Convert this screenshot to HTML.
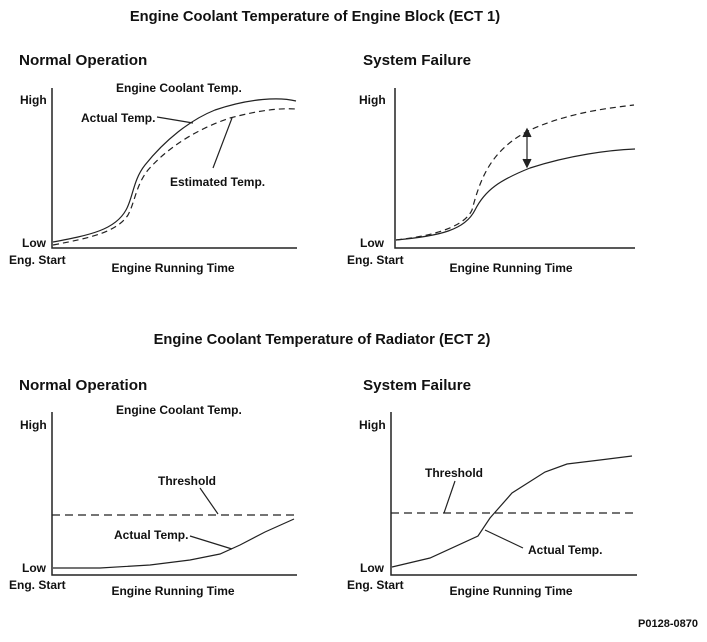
<!DOCTYPE html><html><head><style>body{margin:0;background:#fff}svg text{font-family:"Liberation Sans",Arial,sans-serif;font-weight:bold;fill:#111}</style></head><body>
<svg width="707" height="637" viewBox="0 0 707 637" xmlns="http://www.w3.org/2000/svg">
<g font-size="14.7"><text x="315" y="21" text-anchor="middle">Engine Coolant Temperature of Engine Block (ECT 1)</text>
<text x="322" y="344" text-anchor="middle">Engine Coolant Temperature of Radiator (ECT 2)</text></g>
<g font-size="15.2"><text x="19" y="65">Normal Operation</text><text x="363" y="65">System Failure</text>
<text x="19" y="390">Normal Operation</text><text x="363" y="390">System Failure</text></g>
<g font-size="12">
<text x="116" y="92">Engine Coolant Temp.</text><text x="20" y="104">High</text><text x="22" y="247">Low</text><text x="9" y="264">Eng. Start</text><text x="173" y="272" text-anchor="middle">Engine Running Time</text>
<text x="81" y="122">Actual Temp.</text><text x="170" y="186">Estimated Temp.</text>
<text x="359" y="104">High</text><text x="360" y="247">Low</text><text x="347" y="264">Eng. Start</text><text x="511" y="272" text-anchor="middle">Engine Running Time</text>
<text x="116" y="414">Engine Coolant Temp.</text><text x="20" y="429">High</text><text x="22" y="572">Low</text><text x="9" y="589">Eng. Start</text><text x="173" y="595" text-anchor="middle">Engine Running Time</text>
<text x="158" y="485">Threshold</text><text x="114" y="539">Actual Temp.</text>
<text x="359" y="429">High</text><text x="360" y="572">Low</text><text x="347" y="589">Eng. Start</text><text x="511" y="595" text-anchor="middle">Engine Running Time</text>
<text x="425" y="477">Threshold</text><text x="528" y="554">Actual Temp.</text>
<text x="698" y="627" text-anchor="end" font-weight="normal" font-size="11">P0128-0870</text></g>
<g fill="none" stroke="#222" stroke-width="1.2">
<path d="M52 88V248H297M395 88V248H635M52 412V575H297M391 412V575H637" stroke-width="1.5"/>
<path d="M53 242C90 235 115 230 126 210C133 198 133 180 145 165C165 140 190 120 215 110C250 98 280 97 296 101"/>
<path d="M53 245C90 238 117 232 128 215C135 202 136 185 148 170C170 145 200 128 230 118C260 110 280 108 296 109" stroke-dasharray="6,4"/>
<path d="M157 117L193 123M232 118L213 168"/>
<path d="M396 240C440 235 465 225 472 210C480 180 490 150 530 130C570 112 610 108 634 105" stroke-dasharray="6,4"/>
<path d="M396 240C440 236 465 230 475 210C485 190 500 180 530 168C570 155 610 150 635 149"/>
<path d="M527 131V165"/><path d="M523 137L527 129L531 137M523 159L527 167L531 159" fill="#222"/>
<path d="M52 515H297M391 513H637" stroke-dasharray="8,5"/>
<path d="M53 568L100 568L150 565L190 560L220 554L240 545L265 532L294 519"/>
<path d="M200 488L218 514M190 536L232 549"/>
<path d="M392 567L430 558L478 536L490 518L512 493L545 472L567 464L600 460L632 456"/>
<path d="M455 481L444 513M485 530L523 548"/>
</g></svg></body></html>
